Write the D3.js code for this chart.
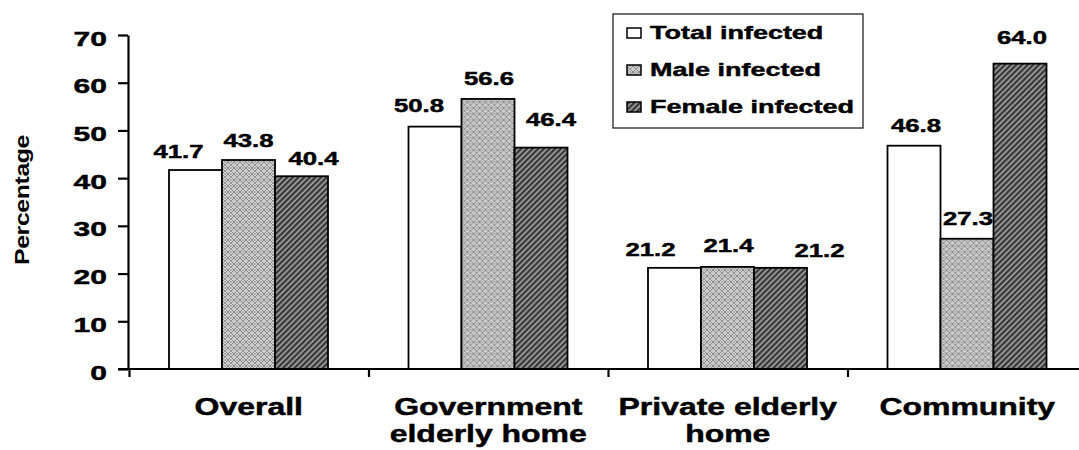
<!DOCTYPE html>
<html>
<head>
<meta charset="utf-8">
<script src="https://cdn.jsdelivr.net/npm/d3@7"></script>
<style>
  html, body { margin: 0; padding: 0; background: #fff; }
  svg { display: block; }
  text { font-family: "Liberation Sans", Arial, sans-serif; fill: #000; }
  text.heavy { stroke: #000; stroke-width: 0.45px; }
</style>
</head>
<body>
<svg id="chart" width="1079" height="450"></svg>
<script>
// ---------------- data ----------------
const categories = ["Overall", "Government elderly home", "Private elderly home", "Community"];
const categoryLines = [["Overall"], ["Government", "elderly home"], ["Private elderly", "home"], ["Community"]];
const seriesNames = ["Total infected", "Male infected", "Female infected"];
const totalInfected = [41.7, 50.8, 21.2, 46.8];
const maleInfected = [43.8, 56.6, 21.4, 27.3];
const femaleInfected = [40.4, 46.4, 21.2, 64.0];
const yTickValues = [0, 10, 20, 30, 40, 50, 60, 70];

// ---------------- layout (label nudges relative to bar top-centre) ----------------
const labelDx = [[-17, 0, 12], [-16, 1, 10], [-24, 1, 39], [2, 1, 2]];
const labelGap = [[12, 13, 11], [15, 14, 22], [12, 15, 11], [14, 14, 20]];
const SX = 1.43; // horizontal text stretch of the original

const seriesValues = [totalInfected, maleInfected, femaleInfected];
const svg = d3.select("#chart");

// patterns
const defs = svg.append("defs");
const male = defs.append("pattern").attr("id", "malePat")
  .attr("patternUnits", "userSpaceOnUse").attr("width", 6).attr("height", 6);
male.append("rect").attr("width", 6).attr("height", 6).attr("fill", "#f4f4f4");
male.append("path").attr("d", "M0,3 L3,0 L6,3 L3,6 Z").attr("fill", "none")
  .attr("stroke", "#8a8a8a").attr("stroke-width", 1.2);
male.append("rect").attr("x", 2.3).attr("y", 2.3).attr("width", 1.4).attr("height", 1.4).attr("fill", "#a0a0a0");
male.append("rect").attr("x", -0.7).attr("y", -0.7).attr("width", 1.4).attr("height", 1.4).attr("fill", "#666");
male.append("rect").attr("x", 5.3).attr("y", -0.7).attr("width", 1.4).attr("height", 1.4).attr("fill", "#666");
male.append("rect").attr("x", -0.7).attr("y", 5.3).attr("width", 1.4).attr("height", 1.4).attr("fill", "#666");
male.append("rect").attr("x", 5.3).attr("y", 5.3).attr("width", 1.4).attr("height", 1.4).attr("fill", "#666");

const female = defs.append("pattern").attr("id", "femalePat")
  .attr("patternUnits", "userSpaceOnUse").attr("width", 4).attr("height", 4)
  .attr("patternTransform", "rotate(45)");
female.append("rect").attr("width", 4).attr("height", 4).attr("fill", "#adadad");
female.append("rect").attr("width", 2.5).attr("height", 4).attr("fill", "#383838");

const fills = ["#ffffff", "url(#malePat)", "url(#femalePat)"];

// scales
const y = d3.scaleLinear().domain([0, 70]).range([369, 35]);
const x = d3.scaleBand().domain(categories).range([129, 1087]).padding(0);
const xs = d3.scaleBand().domain(seriesNames).range([40, 199]).padding(0);
const xEdge = d3.scaleLinear().domain([0, categories.length]).range([129, 1087]);

// bars
categories.forEach((c, ci) => {
  const g = svg.append("g").attr("transform", `translate(${x(c)},0)`);
  seriesNames.forEach((s, si) => {
    const v = seriesValues[si][ci];
    g.append("rect")
      .attr("x", xs(s)).attr("y", y(v))
      .attr("width", xs.bandwidth()).attr("height", y(0) - y(v))
      .attr("fill", fills[si]).attr("stroke", "#000").attr("stroke-width", 1.8);
  });
  seriesNames.forEach((s, si) => {
    const v = seriesValues[si][ci];
    const cx = xs(s) + xs.bandwidth() / 2 + labelDx[ci][si];
    const cy = y(v) - labelGap[ci][si];
    g.append("text").attr("class", "heavy")
      .attr("transform", `translate(${cx},${cy}) scale(${SX},1)`)
      .attr("text-anchor", "middle")
      .style("font-size", "18px").style("font-weight", "bold")
      .text(v.toFixed(1));
  });
});

// y axis
const yAxis = d3.axisLeft(y).tickValues(yTickValues).tickSize(10).tickSizeOuter(0).tickFormat(d3.format("d"));
const gy = svg.append("g").attr("transform", "translate(128,0)").call(yAxis);
gy.select(".domain").attr("stroke", "#000").attr("stroke-width", 2.2);
gy.selectAll(".tick line").attr("stroke", "#000").attr("stroke-width", 2.2);
gy.selectAll(".tick text")
  .attr("class", "heavy")
  .attr("x", null).attr("dy", "0.48em")
  .attr("transform", `translate(-21,0) scale(${SX},1)`)
  .style("font-size", "21px").style("font-weight", "bold")
  .style("font-family", '"Liberation Sans", Arial, sans-serif');

// x axis (ticks at category boundaries)
const xAxis = d3.axisBottom(xEdge).ticks(categories.length).tickSize(8).tickSizeOuter(0).tickFormat("");
const gx = svg.append("g").attr("transform", "translate(0,369)").call(xAxis);
gx.select(".domain").attr("d", "M118,0H1079").attr("stroke", "#000").attr("stroke-width", 2.2);
gx.selectAll(".tick line").attr("stroke", "#000").attr("stroke-width", 2.2);

// category labels
categories.forEach((c, ci) => {
  categoryLines[ci].forEach((line, li) => {
    svg.append("text").attr("class", "heavy")
      .attr("transform", `translate(${x(c) + x.bandwidth() / 2},${415 + li * 27}) scale(1.39,1)`)
      .attr("text-anchor", "middle")
      .style("font-size", "23px").style("font-weight", "bold")
      .text(line);
  });
});

// y label
svg.append("text")
  .attr("transform", "translate(29,200) rotate(-90) scale(1.18,1)")
  .attr("text-anchor", "middle")
  .style("font-size", "21px").style("font-weight", "bold")
  .style("letter-spacing", "-0.3px")
  .text("Percentage");

// legend
const lg = svg.append("g");
lg.append("rect").attr("x", 613).attr("y", 14).attr("width", 250).attr("height", 114)
  .attr("fill", "#fff").attr("stroke", "#222").attr("stroke-width", 1.3);
seriesNames.forEach((s, si) => {
  const by = 39 + si * 37;
  lg.append("rect").attr("x", 627).attr("y", by - 11).attr("width", 14).attr("height", 10)
    .attr("fill", fills[si]).attr("stroke", "#000").attr("stroke-width", 1.5);
  lg.append("text").attr("class", "heavy")
    .attr("transform", `translate(650,${by}) scale(1.42,1)`)
    .style("font-size", "19px").style("font-weight", "bold")
    .text(s);
});
</script>
</body>
</html>
